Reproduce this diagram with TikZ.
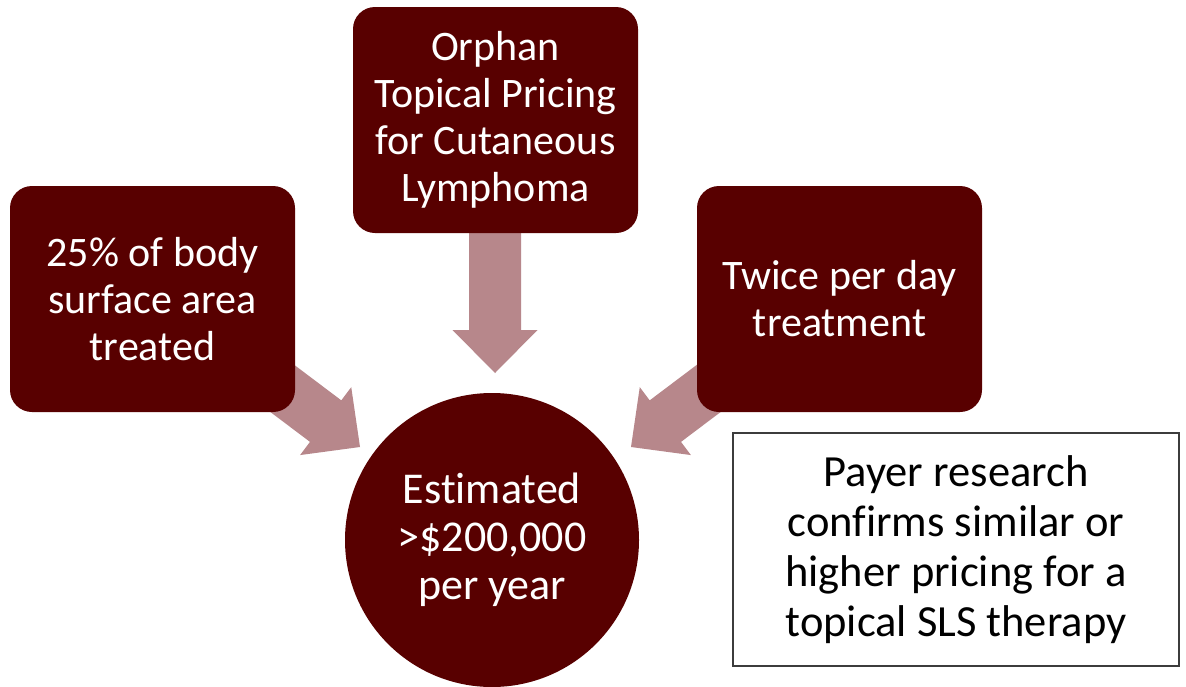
\documentclass[tikz,border=0pt]{standalone}
\usepackage{fontspec}
\setmainfont[Ligatures=NoCommon]{Carlito}
\definecolor{maroon}{RGB}{88,0,0}
\definecolor{arrowpink}{RGB}{183,135,139}
\definecolor{boxline}{RGB}{60,60,60}
\tikzset{
  redbox/.style={fill=maroon, rounded corners=22pt, text=white, align=center,
    inner sep=0pt, minimum width=285pt, minimum height=226pt,
    font=\fontsize{42}{47}\selectfont},
  bigcircle/.style={circle, fill=maroon, text=white, align=center, inner sep=0pt,
    minimum size=294pt, font=\fontsize{44}{48}\selectfont},
  notebox/.style={draw=boxline, line width=1.3pt, fill=white, align=center, inner sep=0pt,
    minimum width=446pt, minimum height=233pt, font=\fontsize{44.5}{50}\selectfont},
  blockarrow/.style={fill=arrowpink, draw=none}
}
\newcommand{\blockarrowshape}[1]{% length of shaft+head
  (0pt,0pt) -- (-43pt,42.5pt) -- (-43pt,26pt) -- (-#1,26pt) -- (-#1,-26pt)
  -- (-43pt,-26pt) -- (-43pt,-42.5pt) -- cycle}
\begin{document}
\begin{tikzpicture}[x=1pt,y=-1pt]
\useasboundingbox (0,0) rectangle (1186,686);
\fill[white] (0,0) rectangle (1186,686);
% tips of arrows
\coordinate (tipL) at (360,447);
\coordinate (tipR) at (631,447);
\coordinate (tipD) at (495,373);
% arrows drawn first (boxes overlap their tails)
\fill[blockarrow, shift={(tipL)}, rotate=-37] \blockarrowshape{150pt};
\fill[blockarrow, shift={(tipR)}, rotate=-143] \blockarrowshape{150pt};
\fill[blockarrow, shift={(tipD)}, rotate=-90] \blockarrowshape{150pt};
% boxes
\node[redbox] (top) at (495.5,120) {Orphan\\Topical Pricing\\for Cutaneous\\Lymphoma};
\node[redbox] (left) at (152.5,299) {25\% of body\\surface area\\treated};
\node[redbox] (right) at (839.5,299) {Twice per day\\treatment};
\node[bigcircle] (est) at (492,540) {Estimated\\>\$200,000\\per year};
\node[notebox] (note) at (956,549.5) {Payer research\\confirms similar or\\higher pricing for a\\topical SLS therapy};
\end{tikzpicture}
\end{document}
